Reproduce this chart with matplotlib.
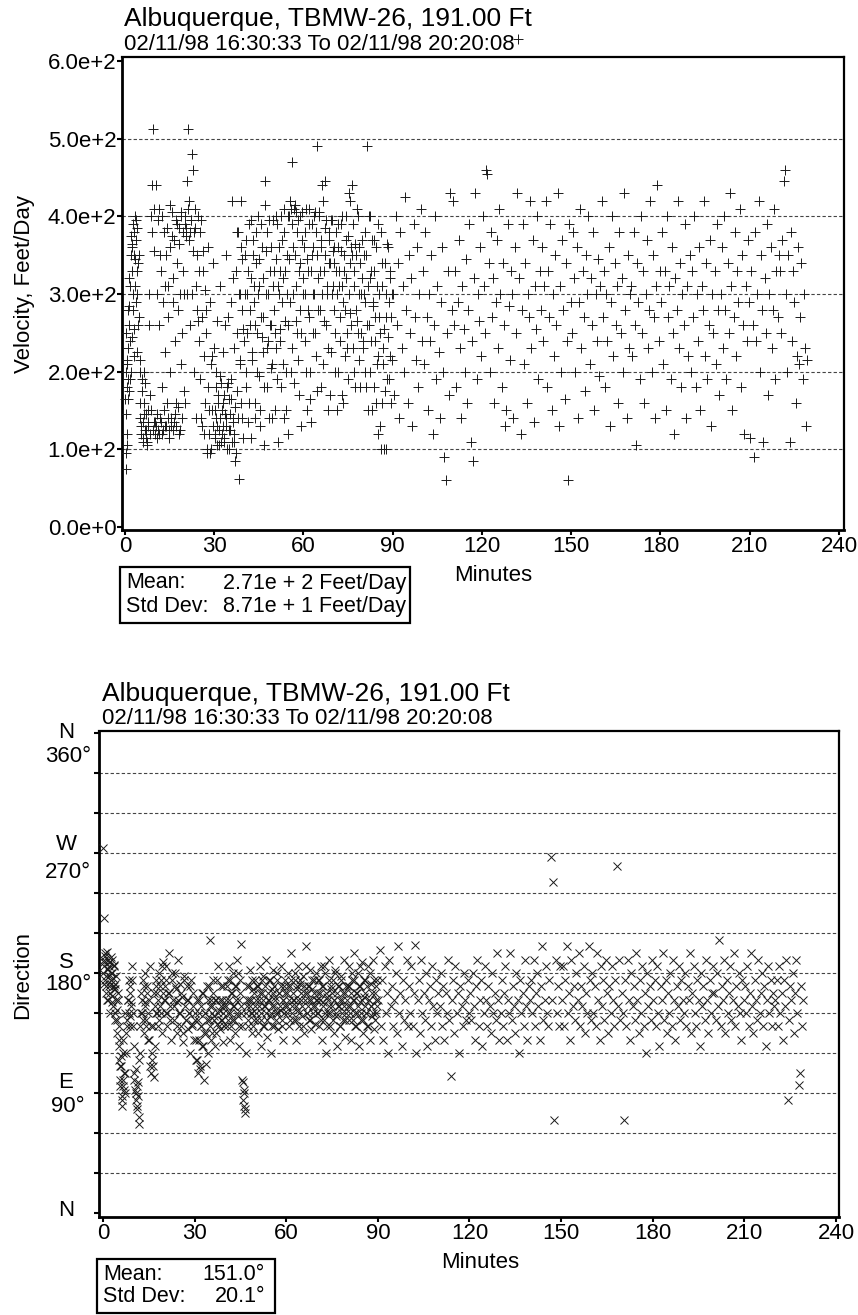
import matplotlib
matplotlib.use("Agg")
import matplotlib.pyplot as plt
from matplotlib.patches import Rectangle

plt.rcParams['font.family'] = ['Liberation Sans', 'DejaVu Sans']

# ---------------- data: velocity (Feet/Day) vs minutes ----------------
vel_t_00 = [0.2,0.3,0.4,0.5,0.6,0.7,0.8,0.9,1.0,1.1,1.3,1.5,1.6,1.8,2.0,2.2,2.4,2.6,2.8,3.0,3.2,3.4,3.6,3.8,4.0,4.2,4.4,4.7,5.0,5.2,5.5,5.8,6.0,6.3,6.5,6.8,7.0,7.3,7.6,7.9,8.2,8.5,8.8,9.1,9.4,9.7,10.0]
vel_v_00 = [75,95,200,145,180,120,215,165,190,230,260,285,310,240,200,330,365,280,390,350,255,310,395,370,225,300,340,270,215,160,130,175,115,145,200,185,125,110,150,135,300,170,400,440,513,355,120]
vel_t_10 = [10.2,10.4,10.6,10.9,11.1,11.3,11.6,11.8,12.0,12.3,12.5,12.8,13.0,13.3,13.5,13.8,14.0,14.3,14.5,14.8,15.0,15.3,15.5,15.8,16.0,16.3,16.5,16.8,17.0,17.3,17.5,17.8,18.0,18.3,18.5,18.8,19.0,19.3,19.5,19.8]
vel_v_10 = [135,440,115,300,125,410,260,140,330,120,180,290,380,130,225,350,160,310,270,125,415,200,140,375,290,320,135,240,395,160,340,280,120,365,300,210,400,250,330,175]
vel_t_20 = [20.1,20.3,20.5,20.8,21.0,21.2,21.5,21.8,22.0,22.3,22.5,22.7,23.0,23.2,23.5,23.8,24.0,24.3,24.5,24.8,25.0,25.3,25.5,25.8,26.0,26.3,26.5,26.8,27.0,27.3,27.5,27.8,28.0,28.3,28.5,28.8,29.0,29.3,29.5,29.8]
vel_v_20 = [390,160,375,300,445,513,420,380,260,395,480,460,355,200,385,310,140,280,400,240,330,190,395,130,270,355,220,305,160,250,95,360,180,120,290,210,100,150,340,230]
vel_t_30 = [30.1,30.3,30.5,30.8,31.0,31.2,31.5,31.8,32.0,32.3,32.5,32.8,33.0,33.3,33.5,33.8,34.0,34.3,34.5,34.8,35.0,35.3,35.5,35.8,36.0,36.3,36.5,36.8,37.0,37.3,37.5,37.8,38.0,38.3,38.5,38.8,39.0,39.3,39.5,39.8]
vel_v_30 = [150,115,200,130,265,170,105,140,310,185,120,160,225,110,145,350,130,180,270,100,165,125,290,190,420,140,230,110,85,330,175,250,380,62,300,210,360,140,280,115]
vel_t_40 = [40.1,40.4,40.7,41.0,41.3,41.6,41.9,42.2,42.5,42.8,43.1,43.4,43.7,44.0,44.3,44.6,44.9,45.2,45.5,45.8,46.1,46.4,46.7,47.0,47.3,47.6,47.9,48.2,48.5,48.8,49.1,49.4,49.7]
vel_v_40 = [240,350,180,300,135,390,260,320,115,215,370,290,160,340,250,400,195,310,130,270,360,225,105,445,300,180,380,240,140,330,260,210,395]
vel_t_50 = [50.0,50.3,50.6,50.9,51.2,51.5,51.8,52.1,52.4,52.7,53.0,53.3,53.6,53.9,54.2,54.5,54.8,55.1,55.4,55.7,56.0,56.3,56.6,56.9,57.2,57.5,57.8,58.1,58.4,58.7,59.0,59.3,59.6,59.9]
vel_v_50 = [280,150,345,230,390,110,300,255,180,370,320,140,410,265,200,350,120,400,290,410,230,470,360,185,415,310,250,395,170,340,280,130,405,300]
vel_t_60 = [60.2,60.5,60.8,61.1,61.4,61.7,62.0,62.3,62.6,62.9,63.2,63.5,63.8,64.1,64.4,64.7,65.0,65.3,65.6,65.9,66.2,66.5,66.8,67.1,67.4,67.7,68.0,68.3,68.6,68.9,69.2,69.5,69.8]
vel_v_60 = [360,240,410,150,330,270,390,200,135,350,300,400,250,380,490,175,320,405,280,360,440,210,330,445,385,260,300,150,370,340,225,395,310]
vel_t_70 = [70.1,70.4,70.7,71.0,71.3,71.6,71.9,72.2,72.5,72.8,73.1,73.4,73.7,74.0,74.3,74.6,74.9,75.2,75.5,75.8,76.1,76.4,76.7,77.0,77.3,77.6,77.9,78.2,78.5,78.8,79.1,79.4,79.7]
vel_v_70 = [280,360,200,330,150,390,310,240,355,170,400,290,330,220,370,250,190,430,340,275,360,440,230,310,180,350,265,400,300,215,340,250,320]
vel_t_80 = [80.1,80.4,80.7,81.0,81.3,81.6,81.9,82.2,82.5,82.8,83.1,83.4,83.7,84.0,84.3,84.6,84.9,85.2,85.5,85.8,86.1,86.4,86.7,87.0,87.3,87.6,87.9,88.2,88.5,88.8,89.1,89.4,89.7]
vel_v_80 = [230,350,290,180,490,310,260,400,200,330,150,285,370,240,160,310,220,390,270,130,100,340,210,255,175,100,300,365,245,190,320,270,215]

# additional (interleaved) readings of the dense first 90 minutes
vel_t_x1 = [0.15,0.35,0.55,0.75,0.95,1.2,1.4,1.7,1.9,2.1,2.3,2.5,2.7,2.9,3.1,3.3,3.5,3.7,3.9,4.1,4.3,4.6,4.9,
            5.1,5.4,5.7,5.9,6.2,6.4,6.7,6.9,7.2,7.5,7.8,8.1,8.4,8.7,9.0,9.3,9.6,9.9,
            10.3,10.7,11.0,11.4,11.7,12.1,12.4,12.7,13.1,13.4,13.7,14.1,14.4,14.7,15.1,15.4,15.7,16.1,16.4,16.7,17.1,17.4,17.7,18.1,18.4,18.7,19.1,19.4,19.7,
            20.2,20.6,21.1,21.6,22.1,22.6,23.1,23.6,24.1,24.6,25.1,25.6,26.1,26.6,27.1,27.6,28.1,28.6,29.1,29.6]
vel_v_x1 = [165,250,105,210,280,175,320,190,350,375,245,360,300,380,220,345,400,290,330,385,260,350,200,
            140,120,190,110,135,160,125,145,115,105,130,260,120,150,380,125,410,135,
            130,145,395,120,350,135,400,125,150,310,130,385,140,115,360,130,405,125,370,145,130,390,155,385,125,405,140,380,300,
            400,385,410,370,395,300,380,410,350,265,380,140,330,120,280,100,150,95,220,130]
vel_t_x2 = [30.15,30.45,30.75,31.05,31.35,31.65,31.95,32.25,32.55,32.85,33.15,33.45,33.75,34.05,34.35,34.65,34.95,35.25,35.55,35.85,36.15,36.45,36.75,37.05,37.35,37.65,37.95,38.25,38.55,38.85,39.15,39.45,39.75,
            40.25,40.55,40.85,41.15,41.45,41.75,42.05,42.35,42.65,42.95,43.25,43.55,43.85,44.15,44.45,44.75,45.05,45.35,45.65,45.95,46.25,46.55,46.85,47.15,47.45,47.75,48.05,48.35,48.65,48.95,49.25,49.55,49.85,
            50.15,50.45,50.75,51.05,51.35,51.65,51.95,52.25,52.55,52.85,53.15,53.45,53.75,54.05,54.35,54.65,54.95,55.25,55.55,55.85,56.15,56.45,56.75,57.05,57.35,57.65,57.95,58.25,58.55,58.85,59.15,59.45,59.75]
vel_v_x2 = [120,180,140,105,160,125,195,110,150,130,170,115,260,140,100,185,125,145,165,110,135,320,120,155,95,380,140,300,215,420,160,345,255,
            300,200,370,250,330,160,280,395,225,350,310,140,260,380,200,300,345,150,390,245,320,270,180,415,355,230,300,395,260,205,360,140,310,
            330,250,400,190,310,360,240,330,400,290,210,380,330,150,300,400,260,345,420,200,390,300,410,350,265,405,380,215,330,400,250,370,320]
vel_t_x3 = [60.35,60.65,60.95,61.25,61.55,61.85,62.15,62.45,62.75,63.05,63.35,63.65,63.95,64.25,64.55,64.85,65.15,65.45,65.75,66.05,66.35,66.65,66.95,67.25,67.55,67.85,68.15,68.45,68.75,69.05,69.35,69.65,69.95,
            70.25,70.55,70.85,71.15,71.45,71.75,72.05,72.35,72.65,72.95,73.25,73.55,73.85,74.15,74.45,74.75,75.05,75.35,75.65,75.95,76.25,76.55,76.85,77.15,77.45,77.75,78.05,78.35,78.65,78.95,79.25,79.55,79.85,
            80.25,80.55,80.85,81.15,81.45,81.75,82.05,82.35,82.65,82.95,83.25,83.55,83.85,84.15,84.45,84.75,85.05,85.35,85.65,85.95,86.25,86.55,86.85,87.15,87.45,87.75,88.05,88.35,88.65,88.95,89.25,89.55,89.85]
vel_v_x3 = [300,380,200,345,280,410,165,330,390,250,360,300,405,220,350,280,400,330,180,370,300,420,265,350,395,310,230,380,340,170,395,300,355,
            340,250,380,300,200,360,330,270,390,310,160,350,280,400,320,230,375,300,420,260,350,390,200,330,365,280,410,250,360,180,300,370,240,
            300,380,200,350,260,150,400,320,240,370,290,180,330,270,360,210,120,300,250,380,160,310,230,100,340,270,190,360,290,220,330,160,300]

vel_t_90 = [90.2,90.6,91.0,91.4,91.8,92.2,92.6,93.0,93.4,93.8,94.2,94.6,95.0,95.4,95.8,96.2,96.6,97.0,97.4,97.8,98.2,98.6,99.0,99.4,99.8,
            100.2,100.6,101.0,101.4,101.8,102.2,102.6,103.0,103.4,103.8,104.2,104.6,105.0,105.4,105.8,106.2,106.6,107.0,107.4,107.8,108.2,108.6,109.0,109.4,109.8,
            110.2,110.6,111.0,111.4,111.8,112.2,112.6,113.0,113.4,113.8,114.2,114.6,115.0,115.4,115.8,116.2,116.6,117.0,117.4,117.8,118.2,118.6,119.0,119.4,119.8]
vel_v_90 = [300,170,400,260,340,140,380,230,310,200,425,280,160,350,250,320,130,390,270,215,360,180,300,410,240,
            330,210,380,270,150,300,240,350,120,260,400,190,310,225,140,290,360,200,90,60,250,330,170,430,280,
            420,260,330,180,290,370,230,140,310,255,200,345,160,280,390,110,240,85,320,430,190,300,265,360,220]
vel_t_120 = [120.2,120.6,121.0,121.4,121.8,122.2,122.6,123.0,123.4,123.8,124.2,124.6,125.0,125.4,125.8,126.2,126.6,127.0,127.4,127.8,128.2,128.6,129.0,129.4,129.8,
             130.2,130.6,131.0,131.4,131.8,132.2,132.6,133.0,133.4,133.8,134.2,134.6,135.0,135.4,135.8,136.2,136.6,137.0,137.4,137.8,138.2,138.6,139.0,139.4,139.8,
             140.2,140.6,141.0,141.4,141.8,142.2,142.6,143.0,143.4,143.8,144.2,144.6,145.0,145.4,145.8,146.2,146.6,147.0,147.4,147.8,148.2,148.6,149.0,149.4,149.8]
vel_v_120 = [400,310,250,460,455,340,200,380,270,320,160,290,370,230,410,300,180,340,260,130,150,390,285,215,330,
             300,140,360,250,430,629,320,120,280,390,210,340,160,300,270,420,230,370,135,310,255,400,190,330,280,
             360,240,310,420,180,330,270,390,150,300,220,350,260,430,130,310,200,370,280,165,340,240,60,390,290]
vel_t_150 = [150.2,150.6,151.0,151.4,151.8,152.2,152.6,153.0,153.4,153.8,154.2,154.6,155.0,155.4,155.8,156.2,156.6,157.0,157.4,157.8,158.2,158.6,159.0,159.4,159.8,
             160.2,160.6,161.0,161.4,161.8,162.2,162.6,163.0,163.4,163.8,164.2,164.6,165.0,165.4,165.8,166.2,166.6,167.0,167.4,167.8,168.2,168.6,169.0,169.4,169.8,
             170.2,170.6,171.0,171.4,171.8,172.2,172.6,173.0,173.4,173.8,174.2,174.6,175.0,175.4,175.8,176.2,176.6,177.0,177.4,177.8,178.2,178.6,179.0,179.4,179.8,
             180.2,180.6,181.0,181.4,181.8,182.2,182.6,183.0,183.4,183.8,184.2,184.6,185.0,185.4,185.8,186.2,186.6,187.0,187.4,187.8,188.2,188.6,189.0,189.4,189.8]
vel_v_150 = [250,380,320,200,360,140,290,410,230,330,270,175,350,300,400,210,320,260,380,150,300,240,345,195,310,
             420,270,330,180,300,240,360,130,290,400,220,340,260,310,160,380,250,320,200,430,280,140,350,230,300,
             310,220,380,260,105,340,290,190,400,250,330,160,300,370,230,280,420,200,350,270,140,310,440,240,330,
             290,380,210,330,150,400,270,310,190,360,250,120,320,280,420,230,340,180,300,260,390,140,310,220,350]
vel_t_190 = [190.2,190.6,191.0,191.4,191.8,192.2,192.6,193.0,193.4,193.8,194.2,194.6,195.0,195.4,195.8,196.2,196.6,197.0,197.4,197.8,198.2,198.6,199.0,199.4,199.8,
             200.2,200.6,201.0,201.4,201.8,202.2,202.6,203.0,203.4,203.8,204.2,204.6,205.0,205.4,205.8,206.2,206.6,207.0,207.4,207.8,208.2,208.6,209.0,209.4,209.8,
             210.2,210.6,211.0,211.4,211.8,212.2,212.6,213.0,213.4,213.8,214.2,214.6,215.0,215.4,215.8,216.2,216.6,217.0,217.4,217.8,218.2,218.6,219.0,219.4,219.8,
             220.2,220.6,221.0,221.4,221.8,222.2,222.6,223.0,223.4,223.8,224.2,224.6,225.0,225.4,225.8,226.2,226.6,227.0,227.4,227.8,228.2,228.6,229.0,229.3]
vel_v_190 = [200,330,270,400,180,300,240,360,150,310,280,420,220,340,190,260,370,130,300,250,330,210,390,280,170,
             300,360,230,400,280,190,340,250,430,310,150,270,380,220,330,290,410,180,350,260,120,310,240,370,290,
             115,330,260,90,380,240,300,420,200,350,280,110,320,250,390,170,300,360,230,280,410,190,330,270,350,
             330,250,370,445,460,300,200,350,110,380,240,330,290,160,220,360,210,270,340,190,300,230,130,215]

# ---------------- data: direction (degrees) vs minutes ----------------
dir_t_00 = [0.1,0.2,0.3,0.4,0.5,0.7,0.9,1.1,1.3,1.5,1.7,1.9,2.1,2.3,2.5,2.7,2.9,3.1,3.3,3.5,3.7,3.9,4.1,4.3,4.5,4.7,4.9,5.1,5.3,5.5,5.7,5.9,6.1,6.3,6.5,6.7,6.9,7.1,7.3,7.5,7.8,8.1,8.4,8.7,9.0,9.3,9.6,9.9]
dir_v_00 = [274,221,190,172,185,193,165,178,196,160,183,170,188,150,175,192,163,180,155,170,186,145,168,178,152,135,160,125,140,110,100,118,85,80,95,130,105,150,90,120,140,160,175,148,165,155,185,140]
dir_t_10 = [10.1,10.3,10.5,10.7,10.9,11.1,11.3,11.5,11.7,11.9,12.1,12.4,12.7,13.0,13.3,13.6,13.9,14.2,14.5,14.8,15.1,15.4,15.7,16.0,16.3,16.6,16.9,17.2,17.5,17.8,18.1,18.4,18.7,19.0,19.3,19.6,19.9]
dir_v_10 = [125,100,92,108,85,95,78,88,67,115,140,165,150,175,135,158,180,145,170,130,160,185,140,120,110,102,125,150,170,165,140,180,155,175,135,188,160]
dir_t_20 = [20.2,20.5,20.8,21.1,21.4,21.7,22.0,22.3,22.6,22.9,23.2,23.5,23.8,24.1,24.4,24.7,25.0,25.3,25.6,25.9,26.2,26.5,26.8,27.1,27.4,27.7,28.0,28.3,28.6,28.9,29.2,29.5,29.8]
dir_v_20 = [170,150,185,140,165,195,155,130,175,160,145,180,168,135,158,190,150,172,140,162,128,178,155,145,170,138,160,150,120,175,142,165,130]
dir_t_30 = [30.1,30.4,30.7,31.0,31.3,31.6,31.9,32.2,32.5,32.8,33.1,33.4,33.7,34.0,34.3,34.6,34.9,35.2,35.5,35.8,36.1,36.4,36.7,37.0,37.3,37.6,37.9,38.2,38.5,38.8,39.1,39.4,39.7]
dir_v_30 = [145,115,160,105,130,150,110,140,165,125,100,150,135,170,120,145,155,205,160,135,175,148,125,160,142,185,152,138,170,145,160,128,155]
dir_t_40 = [40.2,40.5,40.8,41.1,41.4,41.7,42.0,42.3,42.6,42.9,43.2,43.5,43.8,44.1,44.4,44.7,45.0,45.3,45.6,45.9,46.1,46.3,46.5,46.7,47.0,47.3,47.6,47.9,48.2,48.5,48.8,49.1,49.4,49.7]
dir_v_40 = [160,140,175,150,185,130,165,145,180,155,135,170,190,148,160,125,175,202,140,98,90,80,75,120,155,170,140,160,182,150,135,168,145,175]
dir_t_50 = [50.1,50.4,50.7,51.0,51.3,51.6,51.9,52.2,52.5,52.8,53.1,53.4,53.7,54.0,54.3,54.6,54.9,55.2,55.5,55.8,56.1,56.4,56.7,57.0,57.3,57.6,57.9,58.2,58.5,58.8,59.1,59.4,59.7,
            60.1,60.4,60.7,61.0,61.3,61.6,61.9,62.2,62.5,62.8,63.1,63.4,63.7,64.0,64.3,64.6,64.9,65.2,65.5,65.8,66.1,66.4,66.7,67.0,67.3,67.6,67.9,68.2,68.5,68.8,69.1,69.4,69.7]
dir_v_50 = [150,170,135,160,185,145,125,165,178,140,155,190,132,160,175,148,120,168,155,182,140,162,150,175,138,165,152,185,145,160,130,170,155,
            165,150,180,140,170,195,155,160,145,175,130,168,185,152,140,172,160,148,178,135,165,200,150,170,145,160,182,138,168,155,175,142,160]
dir_t_70 = [70.1,70.4,70.7,71.0,71.3,71.6,71.9,72.2,72.5,72.8,73.1,73.4,73.7,74.0,74.3,74.6,74.9,75.2,75.5,75.8,76.1,76.4,76.7,77.0,77.3,77.6,77.9,78.2,78.5,78.8,79.1,79.4,79.7,
            80.1,80.4,80.7,81.0,81.3,81.6,81.9,82.2,82.5,82.8,83.1,83.4,83.7,84.0,84.3,84.6,84.9,85.2,85.5,85.8,86.1,86.4,86.7,87.0,87.3,87.6,87.9,88.2,88.5,88.8,89.1,89.4,89.7]
dir_v_70 = [150,175,140,165,185,130,158,170,145,180,120,162,150,190,140,168,155,175,135,160,182,148,125,170,155,140,178,160,145,190,132,165,150,
            170,145,185,155,130,175,160,195,140,165,150,180,125,170,158,145,188,135,162,175,150,140,185,160,130,172,155,148,190,138,165,150,175]

# additional (interleaved) readings of the dense first 90 minutes
dir_t_x1 = vel_t_x1
dir_v_x1 = [180,188,175,195,170,183,160,190,178,
            185,165,180,172,190,158,176,168,185,150,172,160,145,165,
            130,115,95,110,88,100,120,92,105,135,145,160,150,170,140,158,175,150,
            105,90,80,98,72,120,150,160,145,170,155,140,165,150,130,110,105,115,140,165,155,175,150,160,145,170,150,185,165,
            160,175,150,165,145,180,155,170,140,160,150,165,135,175,145,160,150,170,140,155]
dir_t_x2 = vel_t_x2
dir_v_x2 = [150,130,115,145,160,108,140,155,125,165,135,150,112,145,160,170,140,130,155,150,165,145,160,135,175,150,140,160,155,145,170,150,140,
            155,170,145,160,150,175,140,165,155,145,170,160,150,180,140,165,155,150,100,85,92,78,150,160,145,170,155,160,175,150,140,165,155,
            160,145,170,155,165,150,175,140,160,155,170,150,145,165,160,175,150,140,165,155,170,160,145,180,150,165,155,170,140,160,150,175,165]
dir_t_x3 = vel_t_x3
dir_v_x3 = [155,170,160,145,175,150,165,160,180,155,145,170,160,150,175,165,155,140,170,160,185,150,165,155,170,145,160,175,150,165,155,180,160,
            165,150,175,160,145,170,155,185,150,165,140,160,175,155,150,170,165,145,160,180,150,165,155,170,140,160,175,150,165,155,145,170,160,
            155,170,150,165,180,145,160,175,150,140,165,155,170,185,150,160,145,175,155,165,150,170,140,160,180,155,165,150,175,145,160,170,155]

dir_t_90 = vel_t_90
dir_v_90 = [160,197,140,175,130,185,150,165,120,190,155,170,140,160,180,135,200,150,165,125,175,145,160,190,140,
            170,150,185,140,165,201,120,160,175,135,190,150,165,145,180,125,160,170,140,185,155,130,175,150,165,
            155,180,140,170,130,165,150,190,145,103,160,175,135,185,150,165,120,170,155,140,180,160,145,175,150]
dir_t_120 = vel_t_120
dir_v_120 = [165,145,180,155,130,170,190,140,160,175,125,150,185,160,140,170,155,135,180,150,165,145,195,160,130,
             150,175,140,165,185,130,160,150,195,145,170,155,135,180,160,120,175,150,165,140,190,155,130,170,160,
             175,150,190,140,165,180,155,130,170,200,145,160,185,150,140,175,267,160,248,70,190,150,170,140,185]
dir_t_150 = vel_t_150
dir_v_150 = [160,185,140,175,200,150,165,130,190,155,170,145,180,160,195,140,170,155,185,135,165,150,200,175,145,
             180,150,170,140,195,160,130,185,155,175,145,190,165,135,170,150,185,160,140,175,260,155,190,145,165,
             150,70,175,140,190,160,130,180,155,170,145,195,160,135,175,150,185,140,165,120,180,155,170,145,190,
             160,175,140,185,150,125,170,160,195,145,175,135,165,150,180,140,190,160,130,170,155,185,145,175,160]
dir_t_190 = vel_t_190
dir_v_190 = [150,180,140,170,160,195,135,165,185,150,140,175,160,125,180,155,170,145,190,160,135,175,150,165,185,
             165,145,180,155,205,140,170,160,190,135,175,150,165,185,145,160,195,140,170,155,180,150,130,175,160,
             170,150,185,140,165,195,155,135,175,160,145,190,150,165,180,140,170,125,160,185,150,175,140,165,155,
             160,175,140,185,150,165,130,175,155,190,85,145,170,160,180,135,165,190,150,96,105,170,140,160]

x_ticks = [0, 30, 60, 90, 120, 150, 180, 210, 240]
vel_ticks = [0, 100, 200, 300, 400, 500, 600]
vel_tick_labels = ["0.0e+0", "1.0e+2", "2.0e+2", "3.0e+2", "4.0e+2", "5.0e+2", "6.0e+2"]
dir_ticks = [0, 30, 60, 90, 120, 150, 180, 210, 240, 270, 300, 330, 360]
dir_labels = [(360, "N", "360°"), (270, "W", "270°"), (180, "S", "180°"), (90, "E", "90°"), (0, "N", None)]
title_text = "Albuquerque, TBMW-26, 191.00 Ft"
subtitle_text = "02/11/98 16:30:33 To 02/11/98 20:20:08"


def join(*pairs):
    ts, vs = [], []
    for t, v in pairs:
        n = min(len(t), len(v))
        ts += list(t[:n])
        vs += list(v[:n])
    return ts, vs


vel_t, vel_v = join((vel_t_00, vel_v_00), (vel_t_10, vel_v_10), (vel_t_20, vel_v_20),
                    (vel_t_30, vel_v_30), (vel_t_40, vel_v_40), (vel_t_50, vel_v_50),
                    (vel_t_60, vel_v_60), (vel_t_70, vel_v_70), (vel_t_80, vel_v_80),
                    (vel_t_x1, vel_v_x1), (vel_t_x2, vel_v_x2), (vel_t_x3, vel_v_x3),
                    (vel_t_90, vel_v_90), (vel_t_120, vel_v_120), (vel_t_150, vel_v_150),
                    (vel_t_190, vel_v_190))
dir_t, dir_v = join((dir_t_00, dir_v_00), (dir_t_10, dir_v_10), (dir_t_20, dir_v_20),
                    (dir_t_30, dir_v_30), (dir_t_40, dir_v_40), (dir_t_50, dir_v_50),
                    (dir_t_70, dir_v_70), (dir_t_x1, dir_v_x1), (dir_t_x2, dir_v_x2),
                    (dir_t_x3, dir_v_x3), (dir_t_90, dir_v_90), (dir_t_120, dir_v_120),
                    (dir_t_150, dir_v_150), (dir_t_190, dir_v_190))

W, H = 858, 1315
fig = plt.figure(figsize=(W / 100, H / 100), dpi=100)


def fx(x):
    return x / W


def fy(y):
    return 1 - y / H


FS = 16
BOX_FS = 15.5
GRID = dict(color='#444444', linestyle=(0, (3, 2)), linewidth=0.8)


def style_axes(ax):
    for side in ['left', 'bottom']:
        ax.spines[side].set_linewidth(2.0)
    for side in ['top', 'right']:
        ax.spines[side].set_linewidth(1.6)
    ax.tick_params(direction='out', length=3.5, width=1.5, labelsize=FS, pad=0.5, colors='black')
    ax.set_xticks(x_ticks)
    ax.set_xticklabels([str(v) for v in x_ticks])


# ---------------- top panel ----------------
ax1 = fig.add_axes([fx(122), fy(530), fx(844) - fx(122), fy(57) - fy(530)])
ax1.plot(vel_t, vel_v, linestyle='none', marker='+', markersize=7.5, markeredgewidth=0.7,
         color='#1a1a1a', clip_on=False, zorder=3)
ax1.set_xlim(-1.0, 241.7)
ax1.set_ylim(-3.9, 605.2)
style_axes(ax1)
ax1.set_yticks(vel_ticks)
ax1.set_yticklabels(vel_tick_labels)
for v in vel_ticks[1:-1]:
    ax1.axhline(v, zorder=1, **GRID)

fig.text(fx(124), fy(19), title_text, fontsize=19, ha='left', va='center')
fig.text(fx(124), fy(44), subtitle_text, fontsize=FS, ha='left', va='center')
fig.text(fx(493), fy(575), "Minutes", fontsize=FS, ha='center', va='center')
fig.text(fx(25), fy(284), "Velocity, Feet/Day", fontsize=FS, ha='center', va='center', rotation=90)

fig.patches.append(Rectangle((fx(120), fy(623)), fx(410) - fx(120), fy(567) - fy(623),
                             transform=fig.transFigure, fill=False, lw=1.6, ec='black'))
fig.text(fx(126), fy(583), "Mean:", fontsize=BOX_FS, ha='left', va='center')
fig.text(fx(223), fy(583), "2.71e + 2 Feet/Day", fontsize=BOX_FS, ha='left', va='center')
fig.text(fx(126), fy(607), "Std Dev:", fontsize=BOX_FS, ha='left', va='center')
fig.text(fx(223), fy(607), "8.71e + 1 Feet/Day", fontsize=BOX_FS, ha='left', va='center')

# ---------------- bottom panel ----------------
ax2 = fig.add_axes([fx(99), fy(1217), fx(839) - fx(99), fy(731) - fy(1217)])
ax2.plot(dir_t, dir_v, linestyle='none', marker='x', markersize=5.5, markeredgewidth=0.7,
         color='#1a1a1a', zorder=3)
ax2.set_xlim(-1.3, 241.0)
ax2.set_ylim(-3.0, 361.5)
style_axes(ax2)
ax2.set_yticks(dir_ticks)
ax2.set_yticklabels([])
for v in dir_ticks[1:-1]:
    ax2.axhline(v, zorder=1, **GRID)

fig.text(fx(102), fy(694), title_text, fontsize=19, ha='left', va='center')
fig.text(fx(102), fy(719), subtitle_text, fontsize=FS, ha='left', va='center')
fig.text(fx(480), fy(1263), "Minutes", fontsize=FS, ha='center', va='center')
fig.text(fx(23), fy(975), "Direction", fontsize=FS, ha='center', va='center', rotation=90)

label_pos = {360: (732, 757), 270: (845, 872), 180: (963, 985), 90: (1082, 1106), 0: (1211, None)}
for deg, letter, degtxt in dir_labels:
    ly, dy = label_pos[deg]
    fig.text(fx(66), fy(ly), letter, fontsize=FS, ha='center', va='center')
    if degtxt:
        fig.text(fx(68), fy(dy), degtxt, fontsize=FS, ha='center', va='center')

fig.patches.append(Rectangle((fx(97), fy(1313)), fx(275) - fx(97), fy(1259) - fy(1313),
                             transform=fig.transFigure, fill=False, lw=1.6, ec='black'))
fig.text(fx(103), fy(1275), "Mean:", fontsize=BOX_FS, ha='left', va='center')
fig.text(fx(265), fy(1275), "151.0°", fontsize=BOX_FS, ha='right', va='center')
fig.text(fx(103), fy(1297), "Std Dev:", fontsize=BOX_FS, ha='left', va='center')
fig.text(fx(265), fy(1297), "20.1°", fontsize=BOX_FS, ha='right', va='center')

fig.savefig("out.png", dpi=100, facecolor='white')
